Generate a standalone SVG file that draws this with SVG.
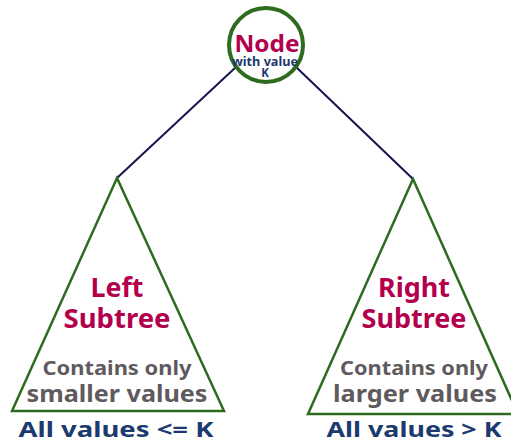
<svg xmlns="http://www.w3.org/2000/svg" width="511" height="443" viewBox="0 0 511 443">
<style>
text{font-family:"Noto Sans","Open Sans","Liberation Sans",sans-serif;font-weight:bold;text-anchor:middle}
.t{fill:#b3004d;font-size:27px}
.g{fill:#5f5a5e}
.c{font-size:19px}
.s{font-size:24px}
.b{fill:#1c3a6e}
.a{font-size:22px}
.tri{fill:#fff;stroke:#2e6b1f;stroke-width:2.5}
.edge{stroke:#14154f;stroke-width:2;fill:none}
</style>
<rect width="511" height="443" fill="#fff"/>
<g id="connectors">
<line class="edge" x1="236" y1="67" x2="117" y2="178"/>
<line class="edge" x1="296" y1="67" x2="413" y2="179"/>
</g>
<g id="root">
<circle cx="266" cy="45" r="37" fill="#fff" stroke="#2e6b1f" stroke-width="4"/>
<text x="267" y="52" class="t" style="font-size:23px" textLength="65" lengthAdjust="spacingAndGlyphs">Node</text>
<text x="265" y="66" class="b" style="font-size:12px" textLength="66" lengthAdjust="spacingAndGlyphs">with value</text>
<text x="265" y="77" class="b" style="font-size:11.5px">K</text>
</g>
<g id="left">
<polygon class="tri" points="117,178 12,411 224,411"/>
<text x="117" y="297" class="t" textLength="53" lengthAdjust="spacingAndGlyphs">Left</text>
<text x="117" y="328" class="t" textLength="107" lengthAdjust="spacingAndGlyphs">Subtree</text>
<text x="117" y="375" class="g c" textLength="149" lengthAdjust="spacingAndGlyphs">Contains only</text>
<text x="117" y="402" class="g s" textLength="181" lengthAdjust="spacingAndGlyphs">smaller values</text>
<text x="116" y="437" class="b a" textLength="195" lengthAdjust="spacingAndGlyphs">All values &lt;= K</text>
</g>
<g id="right">
<polygon class="tri" points="413,179 308,414 518,414"/>
<text x="414" y="297" class="t" textLength="72" lengthAdjust="spacingAndGlyphs">Right</text>
<text x="414" y="328" class="t" textLength="105" lengthAdjust="spacingAndGlyphs">Subtree</text>
<text x="414" y="375" class="g c" textLength="148" lengthAdjust="spacingAndGlyphs">Contains only</text>
<text x="415" y="402" class="g s" textLength="164" lengthAdjust="spacingAndGlyphs">larger values</text>
<text x="414" y="437" class="b a" textLength="175" lengthAdjust="spacingAndGlyphs">All values &gt; K</text>
</g>
</svg>
